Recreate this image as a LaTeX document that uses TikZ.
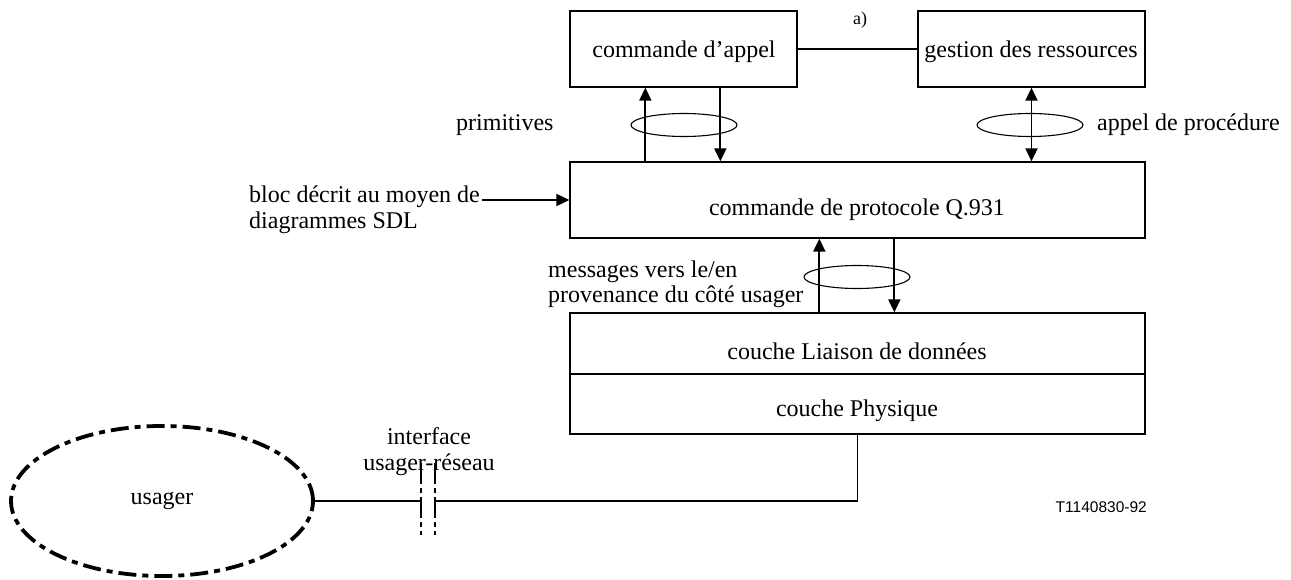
\documentclass[tikz,border=0pt]{standalone}
\usepackage{fontspec}
\setmainfont{Liberation Serif}
\newfontfamily\refsans{Liberation Sans}
\usetikzlibrary{arrows.meta,shapes.geometric}

\begin{document}
\begin{tikzpicture}[x=1pt,y=-1pt,
  every node/.style={font=\fontsize{24}{25.5}\selectfont, inner sep=0pt},
  blk/.style={draw, line width=1.3pt, rectangle, minimum width=#1},
  blk/.default=227pt,
  arr/.style={line width=1.9pt, -{Triangle[length=13pt,width=12pt]}},
  arrboth/.style={line width=1.9pt, {Triangle[length=13pt,width=12pt]}-{Triangle[length=13pt,width=12pt]}},
  loopmark/.style={draw, ellipse, line width=1.1pt, minimum width=106pt, minimum height=23pt},
  wire/.style={line width=1.3pt},
  iface/.style={line width=2.2pt, dash pattern=on 21pt off 4pt on 5pt off 4pt},
  userzone/.style={draw, ellipse, line width=3.8pt, dash pattern=on 18pt off 6pt on 6pt off 6pt,
    minimum width=302pt, minimum height=150pt}
]
\useasboundingbox (0,0) rectangle (1291,580);

% functional blocks
\node[blk, minimum height=76pt] (ca) at (683.5,49) {};
\node[blk, minimum height=76pt] (gr) at (1031.5,49) {};
\node[blk=575pt, minimum height=76pt] (pc) at (857.5,200) {};
\node[blk=575pt, minimum height=61pt] (dl) at (857.5,343.5) {};
\node[blk=575pt, minimum height=60pt] (ph) at (857.5,404) {};

% block titles
\node (tca) at (684,52) {commande d’appel};
\node (tgr) at (1031,52) {gestion des ressources};
\node (tpc) at (857,210) {commande de protocole Q.931};
\node (tdl) at (857,351) {couche Liaison de données};
\node (tph) at (857,411) {couche Physique};

% link between call control and resource management
\draw[wire] (ca) -- (gr);
\node[font=\fontsize{18}{20}\selectfont] (anote) at (860,20) {a)};

% primitives
\node[loopmark] (lp1) at (684,125) {};
\draw[arr] ([xshift=76pt]pc.north west) -- ([xshift=76pt]ca.south west);
\draw[arr] ([xshift=151pt]ca.south west) -- ([xshift=151pt]pc.north west);
\node[anchor=west] (prim) at (456,125) {primitives};

% procedure call
\node[loopmark] (lp2) at (1030,125) {};
\draw[arrboth] (gr.south) -- (gr.south |- pc.north);
\node[anchor=west] (apd) at (1097,125) {appel de procédure};

% SDL note
\node[anchor=west, align=left] (bloc) at (249,209.5) {bloc décrit au moyen de\\diagrammes SDL};
\coordinate (blocend) at (482,200);
\draw[arr] (blocend) -- (pc.west |- blocend);

% messages to/from the user side
\node[loopmark] (lp3) at (857,277) {};
\draw[arr] ([xshift=250pt]dl.north west) -- ([xshift=250pt]pc.south west);
\draw[arr] ([xshift=325pt]pc.south west) -- ([xshift=325pt]dl.north west);
\node[anchor=west, align=left] (msg) at (548,284.5) {messages vers le/en\\provenance du côté usager};

% user and user-network interface
\node[userzone] (us) at (162,501) {usager};
\coordinate (ifl) at (421,501);
\coordinate (ifr) at (435,501);
\draw[wire] (ph.south) |- (ifr);
\draw[wire] (ifl) -- (us.east);
\draw[iface] ([yshift=38pt]ifl) -- ([yshift=-34pt]ifl);
\draw[iface] ([yshift=38pt]ifr) -- ([yshift=-34pt]ifr);
\node[align=center] (ifc) at (429,451.5) {interface\\usager-réseau};

\node[anchor=east, font=\refsans\fontsize{15.5}{17}\selectfont] (ref) at (1147,507) {T1140830-92};
\end{tikzpicture}
\end{document}
